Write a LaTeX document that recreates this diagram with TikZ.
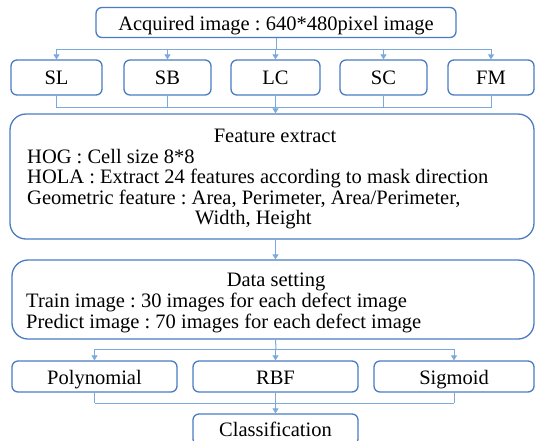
\documentclass[tikz,border=0pt]{standalone}
\usepackage{fontspec}
\setmainfont{Liberation Serif}
\frenchspacing
\usetikzlibrary{arrows.meta}
\definecolor{boxblue}{HTML}{4A7BC4}
\definecolor{linkblue}{HTML}{7BA9DC}
\tikzset{
  box/.style={draw=boxblue, line width=1.3pt, rounded corners=6pt, inner sep=0pt, anchor=center},
  bigbox/.style={draw=boxblue, line width=1.3pt, rounded corners=16pt, inner sep=0pt, anchor=center},
  txt/.style={inner sep=0pt, font=\fontsize{20.5}{21}\selectfont},
  link/.style={draw=linkblue, line width=1pt},
  arr/.style={link, -{Triangle[width=6pt,length=5pt]}},
}
\begin{document}
\begin{tikzpicture}[x=1pt,y=-1pt]
\useasboundingbox (0,0) rectangle (535,440);
\begin{scope}
\clip (0,0) rectangle (535,440);
% acquisition
\node[box, minimum width=360pt, minimum height=30pt] (acq) at (276,22.5) {};
\node[txt, anchor=base] (acqt) at (276,30) {Acquired image : 640*480pixel image};
% defect classes
\foreach \n/\t/\x/\w in {sl/SL/56.5/91, sb/SB/167.5/87, lc/LC/275.5/89, sc/SC/383.5/87, fm/FM/491/86}{
  \node[box, minimum width=\w pt, minimum height=35pt] (\n) at (\x,77.5) {};
  \node[txt, anchor=base] (\n t) at (\x,84) {\t};
}
% feature extraction
\node[bigbox, minimum width=524pt, minimum height=125pt] (feat) at (272,176.5) {};
\node[txt, anchor=base] (ft0) at (275,142) {Feature extract};
\node[txt, anchor=base west] (ft1) at (27,163) {HOG : Cell size 8*8};
\node[txt, anchor=base west] (ft2) at (27,183.5) {HOLA : Extract 24 features according to mask direction};
\node[txt, anchor=base west] (ft3) at (27,204) {Geometric feature : Area, Perimeter, Area/Perimeter,};
\node[txt, anchor=base west] (ft4) at (195,224) {Width, Height};
% data setting
\node[bigbox, minimum width=522pt, minimum height=79pt] (data) at (273,299.5) {};
\node[txt, anchor=base] (dt0) at (276,286.5) {Data setting};
\node[txt, anchor=base west] (dt1) at (26,307) {Train image : 30 images for each defect image};
\node[txt, anchor=base west] (dt2) at (26,328) {Predict image : 70 images for each defect image};
% kernels
\foreach \n/\t/\x/\w in {poly/Polynomial/94.5/165, rbf/RBF/275.5/165, sig/Sigmoid/454/160}{
  \node[box, minimum width=\w pt, minimum height=31pt] (\n) at (\x,376.5) {};
  \node[txt, anchor=base] (\n t) at (\x,384) {\t};
}
% classification
\node[box, minimum width=165pt, minimum height=31pt] (cls) at (275.5,429.5) {};
\node[txt, anchor=base] (clst) at (275.5,436) {Classification};
% junction points
\coordinate (j1) at (276,49);
\coordinate (j2) at (276,107.5);
\coordinate (j3) at (276,349);
\coordinate (j4) at (276,403);
% acquisition to classes
\draw[link] (acq.south) -- (j1);
\draw[link] (sl.north |- j1) -- (fm.north |- j1);
\foreach \n in {sl,sb,lc,sc,fm}{ \draw[arr] (\n.north |- j1) -- (\n.north); }
% classes to features
\foreach \n in {sl,sb,lc,sc,fm}{ \draw[link] (\n.south) -- (\n.south |- j2); }
\draw[link] (sl.south |- j2) -- (fm.south |- j2);
\draw[arr] (lc.south |- j2) -- (feat.north -| lc.south);
% features to data
\draw[arr] (feat.south -| lc.south) -- (data.north -| lc.south);
% data to kernels
\draw[link] (data.south -| lc.south) -- (j3);
\draw[link] (poly.north |- j3) -- (sig.north |- j3);
\foreach \n in {poly,rbf,sig}{ \draw[arr] (\n.north |- j3) -- (\n.north); }
% kernels to classification
\foreach \n in {poly,rbf,sig}{ \draw[link] (\n.south) -- (\n.south |- j4); }
\draw[link] (poly.south |- j4) -- (sig.south |- j4);
\draw[arr] (rbf.south |- j4) -- (cls.north);
\end{scope}
\end{tikzpicture}
\end{document}
